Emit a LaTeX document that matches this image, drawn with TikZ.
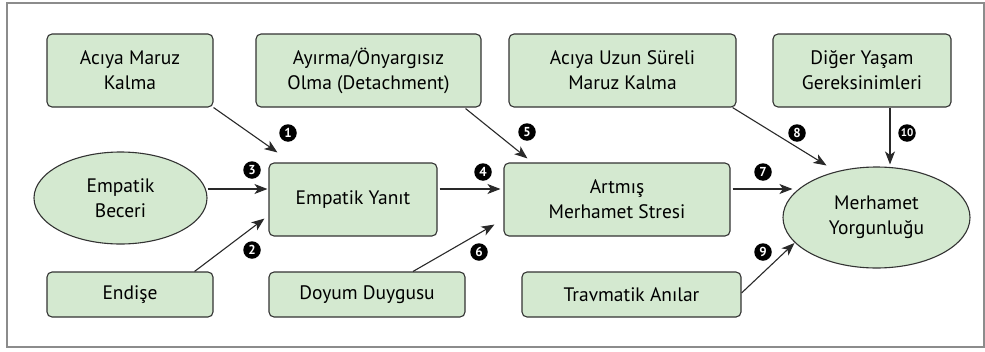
\documentclass[tikz,border=0pt]{standalone}
\usepackage{fontspec}
\setmainfont{PT Sans}
\usetikzlibrary{shapes.geometric,arrows.meta}
\definecolor{boxfill}{RGB}{212,233,208}
\definecolor{boxline}{RGB}{51,51,51}
\definecolor{framecol}{RGB}{140,140,140}
\tikzset{
  box/.style={draw=boxline,fill=boxfill,line width=1.1pt,rounded corners=5pt,align=center,inner sep=0pt,
    font=\fontsize{19.5}{25}\selectfont},
  oval/.style={draw=boxline,fill=boxfill,line width=1.1pt,ellipse,align=center,inner sep=0pt,
    font=\fontsize{19.5}{25}\selectfont},
  conn/.style={draw=boxline!80!black,line width=1.1pt,-{Stealth[length=13pt,width=10pt,inset=3.5pt]}},
  num/.style={circle,fill=black,text=white,inner sep=0pt,minimum size=17.5pt,font=\fontsize{13}{13}\selectfont\bfseries}
}
\begin{document}
\begin{tikzpicture}[x=1pt,y=-1pt]
\useasboundingbox (0,0) rectangle (985,351);
\draw[framecol,line width=1.5pt] (7,3) rectangle (984,347);
% top row
\node[box,minimum width=166pt,minimum height=73pt] (am) at (130,70.5) {Acıya Maruz\\Kalma};
\node[box,minimum width=225pt,minimum height=73pt] (ay) at (368.5,70.5) {Ayırma/Önyargısız\\Olma (Detachment)};
\node[box,minimum width=227pt,minimum height=73pt] (au) at (622.5,70.5) {Acıya Uzun Süreli\\Maruz Kalma};
\node[box,minimum width=178pt,minimum height=73pt] (dy) at (862,70.5) {Diğer Yaşam\\Gereksinimleri};
% middle row
\node[oval,minimum width=173pt,minimum height=92pt] (eb) at (120.5,198) {Empatik\\Beceri};
\node[box,minimum width=168pt,minimum height=73pt] (ey) at (353,199.5) {Empatik Yanıt};
\node[box,minimum width=226pt,minimum height=73pt] (ar) at (617,199.5) {Artmış\\Merhamet Stresi};
\node[oval,minimum width=187pt,minimum height=101pt] (my) at (876.5,217.5) {Merhamet\\Yorgunluğu};
% bottom row
\node[box,minimum width=166pt,minimum height=45pt] (en) at (130,294.5) {Endişe};
\node[box,minimum width=196pt,minimum height=45pt] (do) at (367,294.5) {Doyum Duygusu};
\node[box,minimum width=219pt,minimum height=45pt] (tr) at (631.5,294.5) {Travmatik Anılar};
% connectors
\draw[conn] (am.south east) -- ([shift={(9,-10)}]ey.north west);
\draw[conn] ([shift={(0,-9)}]eb.east) -- ([shift={(-1,-10.5)}]ey.west);
\draw[conn] ([shift={(-19,0)}]en.north east) -- ([shift={(-4,-18)}]ey.south west);
\draw[conn] ([shift={(2,-10.5)}]ey.east) -- ([shift={(-3,-10.5)}]ar.west);
\draw[conn] ([shift={(-16,1)}]ay.south east) -- ([shift={(24,-4)}]ar.north west);
\draw[conn] ([shift={(46,0)}]do.north) -- ([shift={(-9,-12)}]ar.south west);
\draw[conn] ([shift={(2,-10.5)}]ar.east) -- ([shift={(10,-28.5)}]my.west);
\draw[conn] ([shift={(-4,0)}]au.south east) -- ([shift={(-50,-1)}]my.north);
\draw[conn] ([shift={(0,-1.5)}]tr.east) -- ([shift={(12,25.5)}]my.west);
\draw[conn] ([shift={(28,0)}]dy.south) -- ([shift={(13.5,-2)}]my.north);
% numbers
\node[num] (n1) at (288,133) {1};
\node[num] (n2) at (252,250) {2};
\node[num] (n3) at (252,170) {3};
\node[num] (n4) at (483,172) {4};
\node[num] (n5) at (527,132) {5};
\node[num] (n6) at (479,252) {6};
\node[num] (n7) at (763,172) {7};
\node[num] (n8) at (797,133) {8};
\node[num] (n9) at (763,252) {9};
\node[num,font=\fontsize{11}{11}\selectfont\bfseries] (n10) at (907,133) {10};
\end{tikzpicture}
\end{document}
